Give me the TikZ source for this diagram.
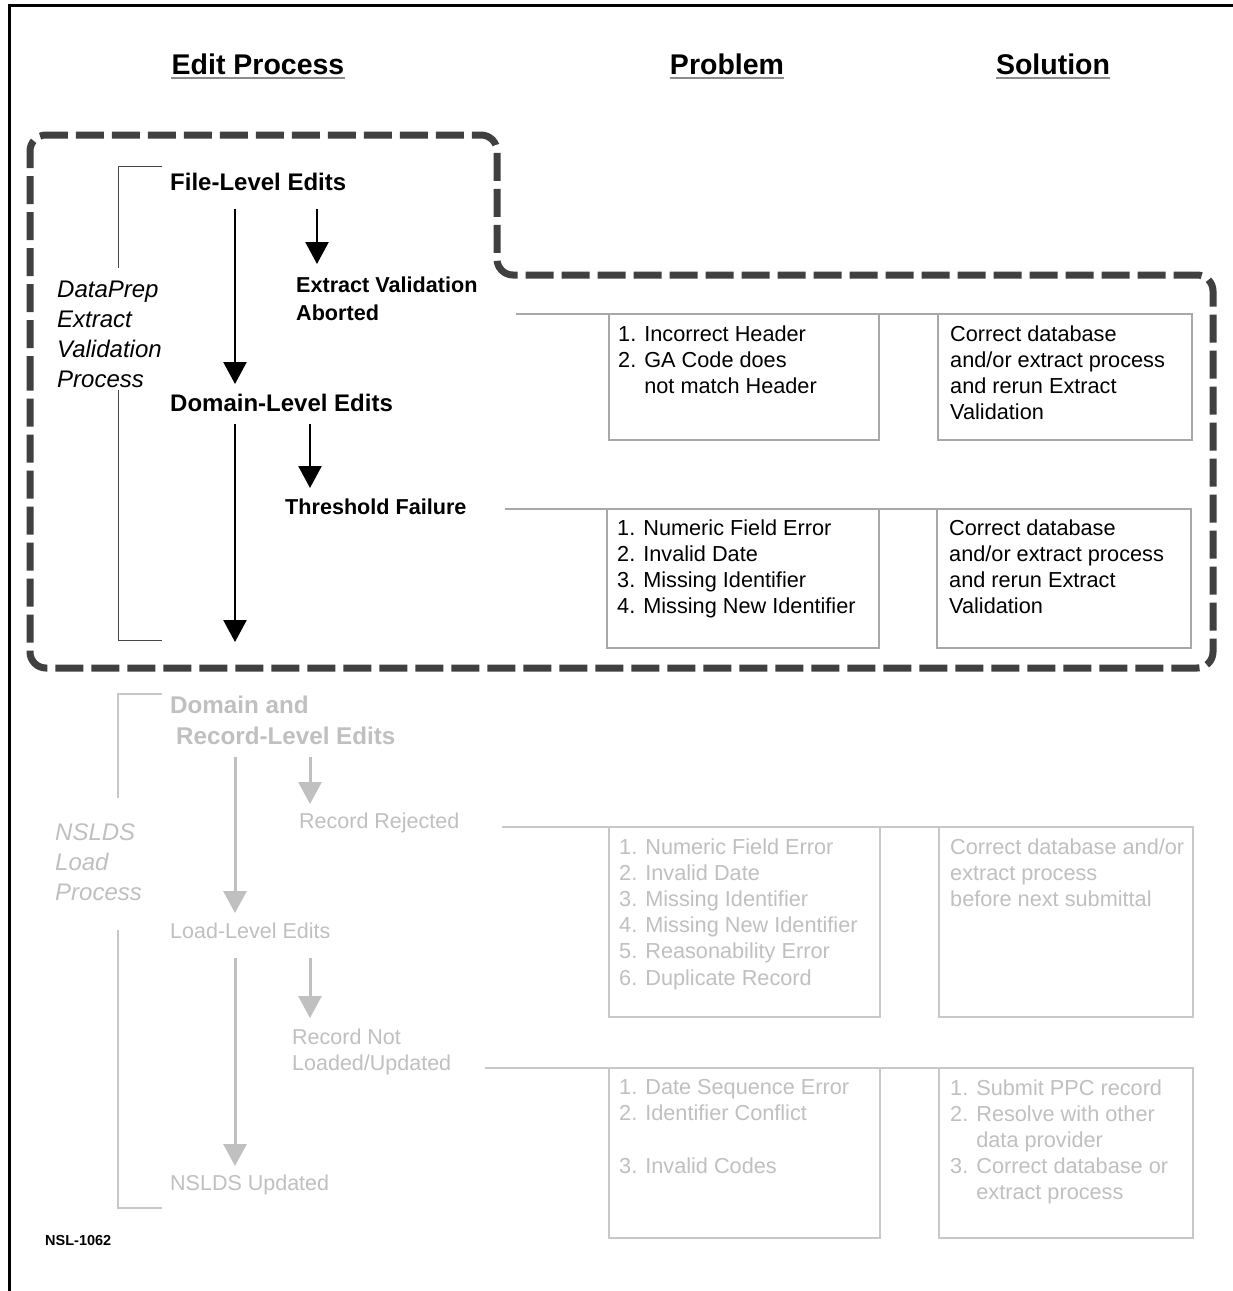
\documentclass[tikz,border=0pt]{standalone}
\usepackage{fontspec}
\setmainfont{Liberation Sans}
\usetikzlibrary{arrows.meta}
\definecolor{dashgray}{RGB}{64,64,64}
\definecolor{lighttxt}{RGB}{192,192,192}
\definecolor{boxgray}{RGB}{168,168,168}
\definecolor{lightbox}{RGB}{200,200,200}
\definecolor{brkdark}{RGB}{70,70,70}
\tikzset{
  hd/.style={font=\fontsize{28.5}{34}\selectfont\bfseries, inner sep=0pt, anchor=base},
  ul/.style={draw=black!45, line width=2.2pt},
  lvl/.style={font=\fontsize{24}{28}\selectfont\bfseries, inner sep=0pt, anchor=base west, align=left},
  sublvl/.style={font=\fontsize{21.6}{28}\selectfont\bfseries, inner sep=0pt, anchor=base west, align=left},
  lab/.style={font=\fontsize{24}{30}\selectfont\itshape, inner sep=0pt, anchor=north west, align=left},
  glvl/.style={font=\fontsize{24.2}{31}\selectfont\bfseries, text=lighttxt, inner sep=0pt, anchor=north west, align=left},
  gsub/.style={font=\fontsize{21.5}{26}\selectfont, text=lighttxt, inner sep=0pt, anchor=base west, align=left},
  glab/.style={font=\fontsize{24}{30}\selectfont\itshape, text=lighttxt, inner sep=0pt, anchor=north west, align=left},
  btxt/.style={font=\fontsize{21.7}{26.2}\selectfont, inner sep=0pt, anchor=north west, align=left},
  gbtxt/.style={btxt, text=lighttxt},
  pbox/.style={draw=boxgray, line width=2pt, inner sep=0pt, outer sep=0pt, anchor=north west},
  gbox/.style={draw=lightbox, line width=2.5pt, inner sep=0pt, outer sep=0pt, anchor=north west},
  conn/.style={draw=boxgray, line width=2pt},
  gconn/.style={draw=lightbox, line width=2.5pt},
  brk/.style={draw=brkdark, line width=0.9pt},
  gbrk/.style={draw=lightbox, line width=1.3pt},
  arr/.style={draw=black, line width=2.6pt, -{Triangle[width=23pt,length=22pt]}},
  garr/.style={draw=lighttxt, line width=3pt, -{Triangle[width=23pt,length=22pt]}},
}
\begin{document}
\begin{tikzpicture}[x=1pt,y=-1pt]
\useasboundingbox (0,0) rectangle (1233,1291);
\fill[white] (0,0) rectangle (1233,1291);
% frame
\draw[line width=3pt] (9,1291) -- (9,5) -- (1233,5);

% headings
\node[hd] (hEdit) at (258,74.3) {Edit Process};
\node[hd] (hProb) at (727,74.3) {Problem};
\node[hd] (hSol) at (1053,74.3) {Solution};
\draw[ul] ([yshift=-4pt]hEdit.base west) -- ([yshift=-4pt]hEdit.base east);
\draw[ul] ([yshift=-4pt]hProb.base west) -- ([yshift=-4pt]hProb.base east);
\draw[ul] ([yshift=-4pt]hSol.base west) -- ([yshift=-4pt]hSol.base east);

% dashed outline
\draw[dashgray, line width=7pt, dash pattern=on 28pt off 8pt, rounded corners=16pt]
  (30,400) -- (30,135) -- (497,135) -- (497,275) -- (1213,275) -- (1213,668) -- (30,668) -- cycle;

% ---------- DataPrep section ----------
\node[lvl] (fle) at (170,190.6) {File-Level Edits};
\node[sublvl, anchor=north west] (eva) at (296,276.3) {Extract Validation\\Aborted};
\node[lab] (dp) at (57,280.4) {DataPrep\\Extract\\Validation\\Process};
\node[lvl] (dle) at (170,411.6) {Domain-Level Edits};
\node[sublvl] (thf) at (285,514.7) {Threshold Failure};

\draw[brk] (162,166) -- (118,166) -- (118,268);
\draw[brk] (118,390) -- (118,640) -- (162,640);

\coordinate (a1s) at (235,209); \coordinate (a1e) at (235,384);
\coordinate (a2s) at (317,209); \coordinate (a2e) at (317,264);
\coordinate (a3s) at (235,424); \coordinate (a3e) at (235,642);
\coordinate (a4s) at (310,424); \coordinate (a4e) at (310,488);
\draw[arr] (a1s) -- (a1e);
\draw[arr] (a2s) -- (a2e);
\draw[arr] (a3s) -- (a3e);
\draw[arr] (a4s) -- (a4e);

% row 1
\node[pbox, minimum width=270pt, minimum height=126pt] (p1) at (609,314) {};
\node[pbox, minimum width=254pt, minimum height=126pt] (s1) at (938,314) {};
\coordinate (l1) at (516,314);
\draw[conn] (l1) -- (s1.north east);
\node[btxt] (p1t) at (618,325.2) {1. Incorrect Header\\2. GA Code does\\\phantom{2. }not match Header};
\node[btxt] (s1t) at (950,325.2) {Correct database\\and/or extract process\\and rerun Extract\\Validation};

% row 2
\node[pbox, minimum width=272pt, minimum height=139pt] (p2) at (607,509) {};
\node[pbox, minimum width=254pt, minimum height=139pt] (s2) at (937,509) {};
\coordinate (l2) at (505,509);
\draw[conn] (l2) -- (s2.north east);
\node[btxt] (p2t) at (617,519.2) {1. Numeric Field Error\\2. Invalid Date\\3. Missing Identifier\\4. Missing New Identifier};
\node[btxt] (s2t) at (949,519.2) {Correct database\\and/or extract process\\and rerun Extract\\Validation};

% ---------- NSLDS section ----------
\node[glvl] (dre) at (170,695.3) {Domain and\\\hspace*{6pt}Record-Level Edits};
\node[gsub] (rrj) at (299,828.7) {Record Rejected};
\node[glab] (nlp) at (55,823.4) {NSLDS\\Load\\Process};
\node[gsub] (lle) at (170,938.7) {Load-Level Edits};
\node[gsub, anchor=north west] (rnl) at (292,1028.3) {Record Not\\Loaded/Updated};
\node[gsub] (nup) at (170,1190.7) {NSLDS Updated};

\draw[gbrk] (162,694) -- (118,694) -- (118,798);
\draw[gbrk] (118,930) -- (118,1208) -- (162,1208);

\coordinate (b1s) at (235,757); \coordinate (b1e) at (235,913);
\coordinate (b2s) at (310,757); \coordinate (b2e) at (310,804);
\coordinate (b3s) at (235,958); \coordinate (b3e) at (235,1166);
\coordinate (b4s) at (310,958); \coordinate (b4e) at (310,1018);
\draw[garr] (b1s) -- (b1e);
\draw[garr] (b2s) -- (b2e);
\draw[garr] (b3s) -- (b3e);
\draw[garr] (b4s) -- (b4e);

% row 3
\node[gbox, minimum width=271pt, minimum height=190pt] (p3) at (609,827) {};
\node[gbox, minimum width=254pt, minimum height=190pt] (s3) at (939,827) {};
\coordinate (l3) at (502,827);
\draw[gconn] (l3) -- (s3.north east);
\node[gbtxt] (p3t) at (619,838.2) {1. Numeric Field Error\\2. Invalid Date\\3. Missing Identifier\\4. Missing New Identifier\\5. Reasonability Error\\6. Duplicate Record};
\node[gbtxt] (s3t) at (950,838.2) {Correct database and/or\\extract process\\before next submittal};

% row 4
\node[gbox, minimum width=271pt, minimum height=170pt] (p4) at (609,1068) {};
\node[gbox, minimum width=254pt, minimum height=170pt] (s4) at (939,1068) {};
\coordinate (l4) at (485,1068);
\draw[gconn] (l4) -- (s4.north east);
\node[gbtxt] (p4t) at (619,1079.2) {1. Date Sequence Error\\2. Identifier Conflict\\[26.2pt]3. Invalid Codes};
\node[gbtxt] (s4t) at (950,1079.2) {1. Submit PPC record\\2. Resolve with other\\\phantom{2. }data provider\\3. Correct database or\\\phantom{3. }extract process};

\node[font=\fontsize{14.5}{17}\selectfont\bfseries, inner sep=0pt, anchor=base west] (nsl) at (45,1245.2) {NSL-1062};
\end{tikzpicture}
\end{document}
